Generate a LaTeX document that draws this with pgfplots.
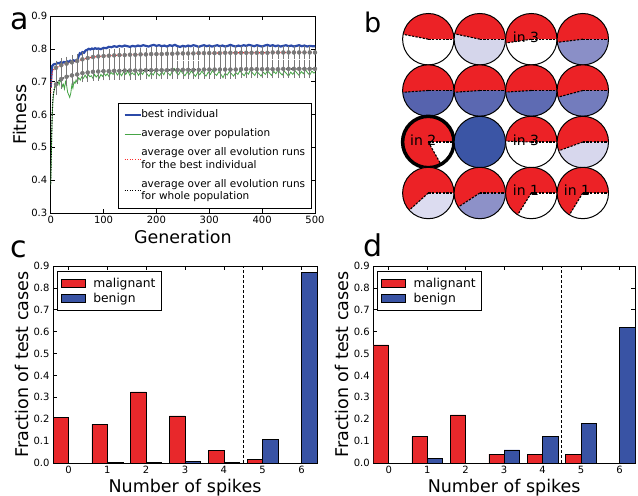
\documentclass[border=0pt]{standalone}
\usepackage{fontspec}
\setmainfont{DejaVu Sans}
\usepackage{pgfplots}
\usepackage{pgfplotstable}
\pgfplotsset{compat=1.18}

\definecolor{barred}{RGB}{232,40,43}
\definecolor{barblue}{RGB}{57,83,164}
\definecolor{lineblue}{RGB}{43,74,168}
\definecolor{linegreen}{RGB}{70,165,70}
\definecolor{linered}{RGB}{255,42,42}
\definecolor{errgray}{RGB}{120,120,120}
\definecolor{piered}{RGB}{236,34,38}
\definecolor{pieA}{RGB}{213,214,235}
\definecolor{pieB}{RGB}{138,143,199}
\definecolor{pieC}{RGB}{86,99,174}
\definecolor{pieD}{RGB}{91,104,177}
\definecolor{pieE}{RGB}{94,107,179}
\definecolor{pieF}{RGB}{115,124,189}
\definecolor{pieG}{RGB}{59,85,165}
\definecolor{pieH}{RGB}{215,215,237}
\definecolor{pieI}{RGB}{220,220,240}
\definecolor{pieJ}{RGB}{141,145,200}

\newcommand\legfont{\fontsize{12.3bp}{14.5bp}\selectfont}
\newcommand\legrow[1]{\begin{tabular}{@{}l@{}}#1\end{tabular}}

\def\pieR{25.7bp}
% centre x, centre y, angle where red ends, colour of the rest, border width
\newcommand\pie[5]{%
  \fill[#4] (axis cs:#1,#2) circle[radius=\pieR];
  \fill[piered] (axis cs:#1,#2) -- ++(0:\pieR) arc[start angle=0,end angle=#3,radius=\pieR] -- cycle;
  \draw[black,line width=1.1bp,dash pattern=on 2.2bp off 1.4bp] (axis cs:#1,#2) -- ++(0:\pieR);
  \draw[black,line width=1.1bp,dash pattern=on 2.2bp off 1.4bp] (axis cs:#1,#2) -- ++(#3:\pieR);
  \draw[black,line width=#5] (axis cs:#1,#2) circle[radius=\pieR];
}

\pgfplotstableread{
g v
0 0.682
1 0.712
2 0.735
3 0.748
5 0.752
8 0.754
10 0.753
13 0.757
16 0.756
19 0.759
22 0.757
25 0.760
28 0.758
31 0.762
34 0.760
37 0.764
40 0.761
43 0.765
46 0.763
49 0.766
51 0.768
53 0.778
55 0.786
57 0.784
60 0.790
63 0.788
66 0.795
69 0.797
72 0.800
75 0.798
78 0.801
81 0.799
84 0.802
87 0.800
90 0.801
95 0.799
100 0.803
105 0.802
110 0.806
115 0.805
120 0.808
125 0.806
130 0.809
135 0.807
140 0.810
145 0.808
150 0.806
155 0.809
160 0.807
165 0.810
170 0.808
175 0.811
180 0.809
185 0.807
190 0.810
195 0.812
200 0.809
205 0.811
210 0.808
215 0.810
220 0.807
225 0.811
230 0.809
235 0.812
240 0.808
245 0.806
250 0.809
255 0.807
260 0.810
265 0.808
270 0.811
275 0.809
280 0.806
285 0.809
290 0.811
295 0.808
300 0.810
305 0.807
310 0.809
315 0.811
320 0.808
325 0.810
330 0.807
335 0.809
340 0.812
345 0.809
350 0.807
355 0.810
360 0.808
365 0.811
370 0.809
375 0.812
380 0.810
385 0.808
390 0.811
395 0.809
400 0.807
405 0.810
410 0.812
415 0.809
420 0.811
425 0.808
430 0.810
435 0.807
440 0.809
445 0.811
450 0.808
455 0.810
460 0.807
465 0.809
470 0.811
475 0.808
480 0.810
485 0.807
490 0.809
495 0.808
500 0.808
}\bestind

\pgfplotstableread{
g v
0 0.385
1 0.46
2 0.54
3 0.60
4 0.635
5 0.655
6 0.668
8 0.683
10 0.690
12 0.694
14 0.700
16 0.690
18 0.704
20 0.700
22 0.685
24 0.692
26 0.678
28 0.700
30 0.690
32 0.668
34 0.660
36 0.652
38 0.665
40 0.690
42 0.680
44 0.700
46 0.695
48 0.705
50 0.698
53 0.712
56 0.705
59 0.715
62 0.710
65 0.720
68 0.712
71 0.722
74 0.715
77 0.718
80 0.710
83 0.722
86 0.714
89 0.720
92 0.711
95 0.722
98 0.716
101 0.725
104 0.718
107 0.724
110 0.716
114 0.728
118 0.722
122 0.733
126 0.720
130 0.728
134 0.718
138 0.730
142 0.722
146 0.733
150 0.718
154 0.727
158 0.721
162 0.732
166 0.719
170 0.729
174 0.722
178 0.735
182 0.724
186 0.716
190 0.728
194 0.720
198 0.733
202 0.724
206 0.718
210 0.730
214 0.721
218 0.736
222 0.726
226 0.719
230 0.731
234 0.740
238 0.727
242 0.721
246 0.734
250 0.725
254 0.718
258 0.729
262 0.722
266 0.733
270 0.724
274 0.716
278 0.728
282 0.721
286 0.732
290 0.723
294 0.717
298 0.729
302 0.722
306 0.734
310 0.725
314 0.719
318 0.730
322 0.723
326 0.712
330 0.726
334 0.720
338 0.731
342 0.724
346 0.717
350 0.728
354 0.722
358 0.733
362 0.725
366 0.718
370 0.730
374 0.723
378 0.736
382 0.726
386 0.719
390 0.731
394 0.724
398 0.717
402 0.729
406 0.722
410 0.733
414 0.726
418 0.719
422 0.731
426 0.724
430 0.736
434 0.727
438 0.720
442 0.732
446 0.725
450 0.716
454 0.729
458 0.722
462 0.734
466 0.726
470 0.719
474 0.731
478 0.724
482 0.736
486 0.727
490 0.720
494 0.732
498 0.726
500 0.729
}\avgpop

\pgfplotstableread{
g v
0 0.665
1 0.700
2 0.718
3 0.728
5 0.735
8 0.740
10 0.742
15 0.746
20 0.750
30 0.755
40 0.759
50 0.763
60 0.768
70 0.772
80 0.775
100 0.778
120 0.780
150 0.782
200 0.784
250 0.786
300 0.787
350 0.788
400 0.788
450 0.789
500 0.789
}\runsbest

\pgfplotstableread{
g v
0 0.390
1 0.470
2 0.550
3 0.610
4 0.645
5 0.662
6 0.673
8 0.685
10 0.692
15 0.702
20 0.708
30 0.715
40 0.719
50 0.722
60 0.726
70 0.728
80 0.730
100 0.732
150 0.734
200 0.735
300 0.737
400 0.738
500 0.739
}\runspop

\pgfplotstableread{
g v e
10 0.742 0.014
20 0.750 0.014
30 0.755 0.013
40 0.759 0.013
50 0.763 0.013
60 0.768 0.013
70 0.772 0.013
80 0.775 0.013
90 0.777 0.013
100 0.778 0.013
110 0.779 0.013
120 0.780 0.013
130 0.781 0.013
140 0.781 0.013
150 0.782 0.013
160 0.782 0.013
170 0.783 0.013
180 0.783 0.013
190 0.784 0.013
200 0.784 0.013
210 0.784 0.013
220 0.785 0.013
230 0.785 0.013
240 0.786 0.013
250 0.786 0.013
260 0.786 0.013
270 0.786 0.013
280 0.787 0.013
290 0.787 0.013
300 0.787 0.013
310 0.787 0.013
320 0.787 0.013
330 0.788 0.013
340 0.788 0.013
350 0.788 0.013
360 0.788 0.013
370 0.788 0.013
380 0.788 0.013
390 0.788 0.013
400 0.788 0.013
410 0.788 0.013
420 0.789 0.013
430 0.789 0.013
440 0.789 0.013
450 0.789 0.013
460 0.789 0.013
470 0.789 0.013
480 0.789 0.013
490 0.789 0.013
500 0.789 0.013
}\runsbesterr

\pgfplotstableread{
g v e
10 0.692 0.024
20 0.708 0.022
30 0.715 0.021
40 0.719 0.021
50 0.722 0.020
60 0.726 0.020
70 0.728 0.020
80 0.730 0.020
90 0.731 0.020
100 0.732 0.020
110 0.732 0.020
120 0.733 0.020
130 0.733 0.020
140 0.734 0.020
150 0.734 0.020
160 0.734 0.020
170 0.734 0.020
180 0.735 0.020
190 0.735 0.020
200 0.735 0.020
210 0.735 0.020
220 0.735 0.020
230 0.736 0.020
240 0.736 0.020
250 0.736 0.020
260 0.736 0.020
270 0.736 0.020
280 0.736 0.020
290 0.737 0.020
300 0.737 0.020
310 0.737 0.020
320 0.737 0.020
330 0.737 0.020
340 0.737 0.020
350 0.737 0.020
360 0.738 0.020
370 0.738 0.020
380 0.738 0.020
390 0.738 0.020
400 0.738 0.020
410 0.738 0.020
420 0.738 0.020
430 0.738 0.020
440 0.739 0.020
450 0.739 0.020
460 0.739 0.020
470 0.739 0.020
480 0.739 0.020
490 0.739 0.020
500 0.739 0.020
}\runspoperr

\pgfplotsset{
  mpl/.style={
    scale only axis,
    axis line style={line width=0.8bp},
    tick style={line width=0.6bp, black},
    major tick length=4bp,
    xticklabel style={font=\fontsize{10bp}{12bp}\selectfont},
    yticklabel style={font=\fontsize{10bp}{12bp}\selectfont},
    /pgf/number format/assume math mode=true,
  },
  barax/.style={
    mpl,
    anchor=south west, width=262bp, height=197bp,
    xmin=-0.4, xmax=6.4, ymin=0, ymax=0.9,
    xtick={0,1,2,3,4,5,6},
    ytick={0,0.1,0.2,0.3,0.4,0.5,0.6,0.7,0.8,0.9},
    yticklabel style={/pgf/number format/.cd, fixed, fixed zerofill, precision=1},
    xlabel={Number of spikes}, ylabel={Fraction of test cases},
    every axis x label/.style={at={(axis description cs:0.5,-0.15)}, anchor=base, font=\fontsize{17.5bp}{21bp}\selectfont},
    legend style={at={(axis description cs:0.015,0.975)}, anchor=north west, draw=black, line width=0.8bp,
      font=\legfont, inner xsep=3.5bp, inner ysep=4.5bp, row sep=0.5bp,
      nodes={inner sep=2bp},
      /tikz/every odd column/.append style={column sep=6bp}},
    legend cell align=left,
  },
  barleg/.style={legend image code/.code={%
    \draw[##1] (0bp,-4bp) rectangle (24bp,4bp);}},
}

\begin{document}
\begin{tikzpicture}
\useasboundingbox (0,0) rectangle (638bp,496bp);

% panel a
\begin{axis}[mpl,
  at={(50.7bp,283bp)}, anchor=south west, width=264.3bp, height=197bp,
  xmin=0, xmax=500, ymin=0.3, ymax=0.9,
  xtick={0,100,200,300,400,500},
  ytick={0.3,0.4,0.5,0.6,0.7,0.8,0.9},
  yticklabel style={/pgf/number format/.cd, fixed, fixed zerofill, precision=1},
  xlabel={Generation}, ylabel={Fitness},
  every axis x label/.style={at={(axis description cs:0.5,-0.154)}, anchor=base, font=\fontsize{17.5bp}{21bp}\selectfont},
  every axis y label/.style={at={(axis description cs:-0.118,0.5)}, rotate=90, anchor=center, font=\fontsize{17.5bp}{21bp}\selectfont},
  legend style={at={(axis description cs:0.989,0.558)}, anchor=north east, draw=black, line width=0.8bp,
    font=\fontsize{10.5bp}{12.6bp}\selectfont, inner xsep=5bp, inner ysep=2bp, row sep=0bp,
    nodes={inner xsep=1.5bp, inner ysep=3.2bp, anchor=west, text depth=, text height=},
    /tikz/every odd column/.append style={column sep=-2bp}},
  legend cell align=left,
  legend image code/.code={\draw[#1] (0bp,0bp) -- (16bp,0bp);},
]
\addplot[lineblue, line width=2.2bp] table[x=g, y=v] {\bestind};
\addlegendentry{\legrow{best individual}}
\addplot[linegreen, line width=0.8bp] table[x=g, y=v] {\avgpop};
\addlegendentry{\legrow{average over population}}
\addplot[linered, line width=1.1bp, dash pattern=on 1bp off 1.6bp] table[x=g, y=v] {\runsbest};
\addlegendentry{\legrow{average over all evolution runs\\for the best individual}}
\addplot[black, line width=1.1bp, dash pattern=on 1bp off 1.6bp] table[x=g, y=v] {\runspop};
\addlegendentry{\legrow{average over all evolution runs\\for whole population}}
\addplot[forget plot, only marks, mark=none, errgray,
  error bars/.cd, y dir=both, y explicit,
  error bar style={errgray, line width=0.45bp},
  error mark options={errgray, line width=0.45bp, mark size=2.6bp}]
  table[x=g, y=v, y error=e] {\runsbesterr};
\addplot[forget plot, only marks, mark=none, errgray,
  error bars/.cd, y dir=both, y explicit,
  error bar style={errgray, line width=0.45bp},
  error mark options={errgray, line width=0.45bp, mark size=2.6bp}]
  table[x=g, y=v, y error=e] {\runspoperr};
\end{axis}

% panel b
\begin{axis}[at={(0bp,0bp)}, anchor=south west, x=1bp, y=1bp,
  xmin=0, xmax=638, ymin=0, ymax=496, hide axis, clip=false]
\pie{428.3}{456.8}{169}{white}{1bp}
\pie{479.8}{456.8}{168}{pieA}{1bp}
\pie{531.3}{456.8}{188.5}{white}{1bp}
\pie{582.8}{456.8}{187}{pieB}{1bp}
\pie{428.3}{405.5}{184}{pieC}{1bp}
\pie{479.8}{405.5}{184}{pieD}{1bp}
\pie{531.3}{405.5}{183.5}{pieE}{1bp}
\pie{582.8}{405.5}{195}{pieF}{1bp}
\pie{428.3}{354.0}{299.5}{white}{3.5bp}
\fill[pieG] (axis cs:479.8,354.0) circle[radius=\pieR];
\draw[black,line width=1bp] (axis cs:479.8,354.0) circle[radius=\pieR];
\pie{531.3}{354.0}{178}{white}{1bp}
\pie{582.8}{354.0}{200}{pieH}{1bp}
\pie{428.3}{303.0}{222}{pieI}{1bp}
\pie{479.8}{303.0}{213}{pieJ}{1bp}
\pie{531.3}{303.0}{238}{white}{1bp}
\pie{582.8}{303.0}{238.5}{white}{1bp}
\node[anchor=base west, inner sep=0pt, font=\fontsize{14bp}{16bp}\selectfont] at (axis cs:512.7,453.7) {in 3};
\node[anchor=base west, inner sep=0pt, font=\fontsize{14bp}{16bp}\selectfont] at (axis cs:410.0,350.7) {in 2};
\node[anchor=base west, inner sep=0pt, font=\fontsize{14bp}{16bp}\selectfont] at (axis cs:512.7,350.7) {in 3};
\node[anchor=base west, inner sep=0pt, font=\fontsize{14bp}{16bp}\selectfont] at (axis cs:512.7,300.0) {in 1};
\node[anchor=base west, inner sep=0pt, font=\fontsize{14bp}{16bp}\selectfont] at (axis cs:563.7,300.0) {in 1};
\end{axis}

% panel c
\begin{axis}[barax, at={(53bp,33bp)}, width=264bp,
  every axis y label/.style={at={(axis description cs:-0.119,0.5)}, rotate=90, anchor=center, font=\fontsize{17.5bp}{21bp}\selectfont}]
\addplot[ybar, bar width=0.4, bar shift=-0.2, fill=barred, draw=black, line width=0.5bp, barleg]
  coordinates {(0,0.210) (1,0.176) (2,0.325) (3,0.215) (4,0.057) (5,0.015)};
\addlegendentry{\legfont malignant}
\addplot[ybar, bar width=0.4, bar shift=0.2, fill=barblue, draw=black, line width=0.5bp, barleg]
  coordinates {(1,0.004) (2,0.004) (3,0.006) (4,0.004) (5,0.107) (6,0.870)};
\addlegendentry{\legfont benign}
\addplot[forget plot, black, line width=1.2bp, dash pattern=on 3bp off 2bp] coordinates {(4.5,0) (4.5,0.9)};
\end{axis}

% panel d
\begin{axis}[barax, at={(373.3bp,33bp)}, width=261.7bp,
  every axis y label/.style={at={(axis description cs:-0.121,0.5)}, rotate=90, anchor=center, font=\fontsize{17.5bp}{21bp}\selectfont}]
\addplot[ybar, bar width=0.4, bar shift=-0.2, fill=barred, draw=black, line width=0.5bp, barleg]
  coordinates {(0,0.540) (1,0.120) (2,0.220) (3,0.040) (4,0.040) (5,0.040)};
\addlegendentry{\legfont malignant}
\addplot[ybar, bar width=0.4, bar shift=0.2, fill=barblue, draw=black, line width=0.5bp, barleg]
  coordinates {(1,0.020) (3,0.060) (4,0.120) (5,0.180) (6,0.620)};
\addlegendentry{\legfont benign}
\addplot[forget plot, black, line width=1.2bp, dash pattern=on 3bp off 2bp] coordinates {(4.5,0) (4.5,0.9)};
\end{axis}

% panel letters
\node[anchor=base west, inner sep=0pt, font=\fontsize{30bp}{34bp}\selectfont] at (10bp,466bp) {a};
\node[anchor=base west, inner sep=0pt, font=\fontsize{27bp}{32bp}\selectfont] at (364bp,463bp) {b};
\node[anchor=base west, inner sep=0pt, font=\fontsize{30bp}{34bp}\selectfont] at (10bp,238bp) {c};
\node[anchor=base west, inner sep=0pt, font=\fontsize{30bp}{34bp}\selectfont] at (363bp,239bp) {d};
\end{tikzpicture}
\end{document}
